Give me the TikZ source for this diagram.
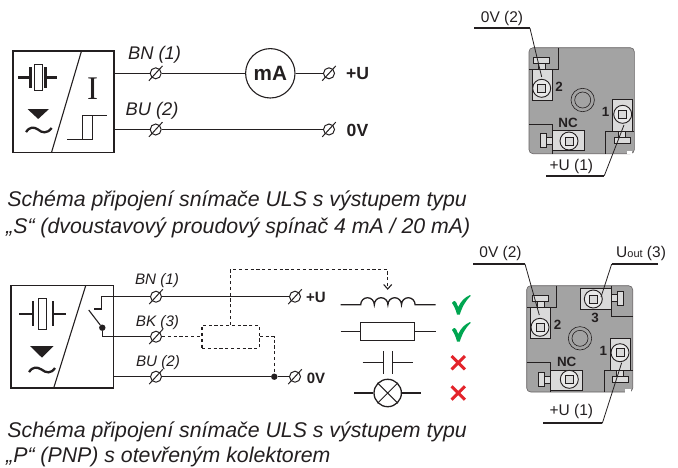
\documentclass[tikz,border=0pt]{standalone}
\usepackage{fontspec}
\setmainfont{Liberation Sans}
\newfontfamily\serifI{Liberation Serif}
\usetikzlibrary{calc,arrows.meta}
\definecolor{ink}{HTML}{231F20}
\definecolor{bodygray}{HTML}{A3A3A3}
\definecolor{plategray}{HTML}{DADADA}
\definecolor{okgreen}{HTML}{00A651}
\definecolor{badred}{HTML}{E3242B}
\newcommand{\fs}[1]{\fontsize{#1}{#1}\selectfont}
\tikzset{
  wire/.style={draw=ink,line width=1.3pt},
  dash wire/.style={draw=ink,line width=1.1pt,dash pattern=on 3.2pt off 2.6pt},
  term/.style={circle,draw=ink,fill=white,line width=1pt,minimum size=11pt,inner sep=0pt},
  boxnode/.style={rectangle,draw=ink,line width=1.3pt,inner sep=0pt},
  txt/.style={inner sep=0pt,text=ink},
  caption/.style={anchor=base west,inner sep=0pt,text=ink,font=\fs{21.3}\itshape},
  lead/.style={draw=ink,line width=0.8pt},
  leadbar/.style={draw=ink,line width=1.8pt},
  thin ink/.style={draw=ink,line width=0.7pt},
  block/.style={draw=ink,line width=0.6pt,fill=plategray},
  dotnode/.style={circle,fill=ink,inner sep=0pt,minimum size=6.4pt},
}
\newcommand{\terminal}[3]{\node[term] (#1) at (#2,#3) {};
  \draw[ink,line width=1pt] ($(#1)+(-6.8,7.4)$) -- ($(#1)+(6.8,-7.4)$);}
\newcommand{\crystal}[8]{% rectx1 rectx2 recty1 recty2 plateL plateR linex1 linex2
  \draw[ink,line width=1pt,fill=white] (#1,#3) rectangle (#2,#4);
  \draw[ink,line width=2.2pt] (#5,{#3+3}) -- (#5,{#4-3}) (#6,{#3+3}) -- (#6,{#4-3});
  \draw[ink,line width=2.2pt] (#7,{(#3+#4)/2}) -- (#5,{(#3+#4)/2}) (#6,{(#3+#4)/2}) -- (#8,{(#3+#4)/2});}
\newcommand{\screwdisc}[2]{%
  \draw[ink,line width=0.9pt,fill=plategray!60!white] (#1,#2) circle (9);
  \draw[ink,line width=0.6pt,fill=plategray] ({#1-4},{#2-4}) rectangle ({#1+4},{#2+4});}
\newcommand{\hub}[2]{%
  \draw[ink,line width=0.6pt,fill=bodygray] (#1,#2) circle (11.7);
  \draw[ink,line width=0.6pt,fill=bodygray] (#1,#2) circle (8);}
\newcommand{\hscrew}[3]{% centre x, junction y, direction of the head
  \draw[block] ({#1-3.5},#2) rectangle ({#1+3.5},{#2+6*#3});
  \draw[block] ({#1-8},{#2+6*#3}) rectangle ({#1+8},{#2+12*#3});}
\newcommand{\vscrew}[3]{% junction x, centre y, direction of the head
  \draw[block] (#1,{#2-3.5}) rectangle ({#1+6*#3},{#2+3.5});
  \draw[block] ({#1+6*#3},{#2-7}) rectangle ({#1+12*#3},{#2+7});}
\begin{document}
\begin{tikzpicture}[x=1pt,y=-1pt]
\useasboundingbox (0,0) rectangle (678,467);
% ---------- top schematic
\node[boxnode,minimum width=101pt,minimum height=101.5pt] (boxA) at (63.5,101.7) {};
\draw[ink,line width=1.1pt] (81.5,51) -- (51.5,152.5);
\crystal{34}{42}{64.3}{90.7}{30.5}{45.5}{18}{57}
\fill[ink] (27.5,109) -- (49,109) -- (38.2,119) -- cycle;
\draw[ink,line width=2.3pt] (26,132) .. controls (29,127) and (34,126.5) .. (38,129.5) .. controls (42,133) and (47,134) .. (51.7,128);
\node[txt,font=\serifI\fs{33}] (curI) at (92.5,88.5) {I};
\draw[ink,line width=1pt] (67,139) -- (92,139) -- (92,115) (82.5,139) -- (82.5,115) -- (107,115);
\terminal{tA}{155.7}{73.3}
\terminal{tB}{155.7}{129.5}
\terminal{tU}{329}{73.3}
\terminal{tO}{329}{129.5}
\node[circle,draw=ink,line width=1.1pt,inner sep=0pt,minimum size=49.4pt,font=\fs{20.7}\bfseries,text=ink] (ma) at (270.3,73.3) {mA};
\draw[wire] (boxA.east |- tA) -- (tA);
\draw[wire] (tA) -- (ma);
\draw[wire] (ma) -- (tU);
\draw[wire] (boxA.east |- tB) -- (tB);
\draw[wire] (tB) -- (tO);
\node[txt,font=\fs{18.3}\itshape] (lBN) at (154.5,55) {BN (1)};
\node[txt,font=\fs{18.3}\itshape] (lBU) at (152,111) {BU (2)};
\node[txt,font=\fs{17.6}\bfseries] (lU) at (357.5,74) {+U};
\node[txt,font=\fs{17.6}\bfseries] (lO) at (357.5,130.5) {0V};
% ---------- top caption
\node[caption] (c1) at (7.3,206.7) {Schéma připojení snímače ULS s výstupem typu};
\node[caption] (c2) at (6,233) {„S“ (dvoustavový proudový spínač 4 mA / 20 mA)};
% ---------- top connector block
\draw[draw=ink!70,line width=0.6pt,fill=bodygray,rounded corners=4pt] (529,47.7) rectangle (634.3,153.7);
\draw[thin ink] (558.3,47.7) -- (558.3,69) -- (529,69);
\draw[thin ink] (605.7,153.7) -- (605.7,131.7) -- (634.3,131.7);
\draw[thin ink] (529,124) -- (552.3,124) -- (552.3,153.7);
\fill[white] (626.7,150.5) rectangle (632,154.2);
\draw[block] (532.3,69) rectangle (552.3,100);
\draw[block] (612.7,99.3) rectangle (632.3,131.7);
\draw[block] (552.3,130.3) rectangle (584,150.7);
\screwdisc{541.7}{88.3}
\screwdisc{622.7}{114.3}
\screwdisc{569}{141}
\hscrew{541.5}{69}{-1}
\hscrew{622}{131.7}{1}
\vscrew{552.3}{140.5}{-1}
\hub{582.7}{100}
\node[txt,font=\fs{13.4}\bfseries] (n2a) at (559,86.7) {2};
\node[txt,font=\fs{13.4}\bfseries] (n1a) at (605.7,112.3) {1};
\node[txt,font=\fs{13.4}\bfseries] (nca) at (568,122.7) {NC};
\coordinate (a0s) at (474,28.3); \coordinate (a0e) at (530,28.3); \coordinate (a0t) at (541.7,77);
\draw[leadbar] (a0s) -- (a0e); \draw[lead] (a0e) -- (a0t);
\node[txt,font=\fs{15.5}] (l0a) at (502,18.7) {0V (2)};
\coordinate (a1s) at (546,175.7); \coordinate (a1e) at (604.3,175.7); \coordinate (a1t) at (624,125);
\draw[leadbar] (a1s) -- (a1e); \draw[lead] (a1e) -- (a1t);
\node[txt,font=\fs{15.5}] (l1a) at (571.3,166.7) {+U (1)};
% ---------- bottom schematic
\node[boxnode,minimum width=102.7pt,minimum height=102.3pt] (boxB) at (62.35,336.85) {};
\draw[ink,line width=1.1pt] (85.7,285.7) -- (53.7,388);
\crystal{38.3}{46.3}{298.3}{329}{33.3}{53.3}{19}{65.7}
\fill[ink] (30,346) -- (53.7,346) -- (42,357.7) -- cycle;
\draw[ink,line width=2.3pt] (29,372) .. controls (32,367) and (37,366.5) .. (41.5,369.5) .. controls (46,373) and (51,374) .. (55,368);
\terminal{tC}{156}{296.7}
\terminal{tD}{156}{336.7}
\terminal{tE}{156}{376.7}
\terminal{tF}{295}{296.7}
\terminal{tG}{295}{376.7}
\node[dotnode] (sw) at (102.3,327.7) {};
\node[dotnode] (j0) at (274.3,376.7) {};
\draw[ink,line width=1.1pt] (94.3,309) -- (101.7,309) -- (101.7,296.7) -- (tC);
\draw[ink,line width=1.1pt] (88.7,310) -- (sw);
\draw[wire] (sw) -- (sw |- tD) -- (tD);
\draw[wire] (tC) -- (tF);
\draw[wire] (boxB.east |- tE) -- (tE);
\draw[wire] (tE) -- (j0);
\draw[wire] (j0) -- (tG);
\node[dash wire,rectangle,inner sep=0pt,minimum width=57.3pt,minimum height=22.7pt] (dr) at (230.65,336.7) {};
\draw[dash wire] (tD) -- (dr.west |- tD);
\coordinate (ind) at (387.7,289.8);
\draw[dash wire,-{Straight Barb[length=4.5pt,width=8pt]}] (dr.north) -- (dr.north |- 0,269.3) -- (ind |- 0,269.3) -- (ind);
\draw[dash wire] (dr.east) -- (dr.east -| j0) -- (j0);
\node[txt,font=\fs{15.2}\itshape] (lBNb) at (157,280.7) {BN (1)};
\node[txt,font=\fs{15.2}\itshape] (lBKb) at (157.5,322.7) {BK (3)};
\node[txt,font=\fs{15.2}\itshape] (lBUb) at (158,363) {BU (2)};
\node[txt,font=\fs{15}\bfseries] (lUb) at (316,297) {+U};
\node[txt,font=\fs{15}\bfseries] (lOb) at (316,378) {0V};
% loads
\draw[wire] (340.7,304.7) -- (360.7,304.7)
  arc[start angle=180,end angle=360,x radius=6.8,y radius=7] arc[start angle=180,end angle=360,x radius=6.8,y radius=7]
  arc[start angle=180,end angle=360,x radius=6.8,y radius=7] arc[start angle=180,end angle=360,x radius=6.8,y radius=7]
  -- (435.7,304.7);
\node[rectangle,draw=ink,line width=1.3pt,inner sep=0pt,minimum width=54pt,minimum height=18pt] (res) at (387.7,331.7) {};
\coordinate (resL) at (340.7,331.7); \coordinate (resR) at (435.7,331.7);
\draw[wire] (resL) -- (res) (res) -- (resR);
\draw[wire] (383.3,351) -- (383.3,374.3) (392.3,351) -- (392.3,374.3);
\draw[wire] (362.7,362.7) -- (383.3,362.7) (392.3,362.7) -- (413.3,362.7);
\node[circle,draw=ink,line width=1.3pt,inner sep=0pt,minimum size=27.4pt] (lamp) at (387.7,393) {};
\coordinate (lampL) at (354.3,393); \coordinate (lampR) at (420.7,393);
\draw[wire] (lampL) -- (lamp) (lamp) -- (lampR);
\draw[ink,line width=1pt] (lamp.north west) -- (lamp.south east) (lamp.north east) -- (lamp.south west);
% ticks and crosses
\foreach \dy in {0,27}{
  \fill[okgreen] (452,{303+\dy}) .. controls (454,{300.5+\dy}) and (455,{300.5+\dy}) .. (456,{302+\dy}) -- (458.2,{307+\dy}) .. controls (461,{301+\dy}) and (465,{297+\dy}) .. (470.2,{295+\dy}) -- (470.6,{296+\dy}) .. controls (466,{300+\dy}) and (462,{307+\dy}) .. (459.8,{314.6+\dy}) -- (457,{314.6+\dy}) .. controls (456,{310+\dy}) and (454,{306+\dy}) .. cycle;
}
\foreach \cy in {362.7,393}{
  \draw[badred,line width=3pt] (451.6,{\cy-6.7}) -- (465,{\cy+6.7}) (465,{\cy-6.7}) -- (451.6,{\cy+6.7});
}
% ---------- bottom connector block
\draw[draw=ink!70,line width=0.6pt,fill=bodygray,rounded corners=4pt] (526.7,285.7) rectangle (632.7,392);
\draw[thin ink] (556.7,285.7) -- (556.7,307.7) -- (526.7,307.7);
\draw[thin ink] (611.7,285.7) -- (611.7,316) -- (632.7,316);
\draw[thin ink] (604,392) -- (604,370) -- (632.7,370);
\draw[thin ink] (526.7,362.7) -- (550.7,362.7) -- (550.7,392);
\fill[white] (625,388.8) rectangle (630.5,392.5);
\draw[block] (530,307.7) rectangle (550,338.3);
\draw[block] (580.7,288.3) rectangle (611.7,309);
\draw[block] (610,338.3) rectangle (630,370);
\draw[block] (550.7,370) rectangle (582.7,390);
\screwdisc{540}{327.3}
\screwdisc{593.3}{299}
\screwdisc{620}{352.7}
\screwdisc{569.3}{379.3}
\hscrew{540.5}{307.7}{-1}
\hscrew{620}{370}{1}
\vscrew{611.7}{298}{1}
\vscrew{550.7}{379.3}{-1}
\hub{580}{338.3}
\node[txt,font=\fs{13.4}\bfseries] (n2b) at (557.7,325) {2};
\node[txt,font=\fs{13.4}\bfseries] (n3b) at (595,317.7) {3};
\node[txt,font=\fs{13.4}\bfseries] (n1b) at (603.3,350.7) {1};
\node[txt,font=\fs{13.4}\bfseries] (ncb) at (566.7,361.7) {NC};
\coordinate (b0s) at (473,264); \coordinate (b0e) at (525,264); \coordinate (b0t) at (539.3,315);
\draw[leadbar] (b0s) -- (b0e); \draw[lead] (b0e) -- (b0t);
\node[txt,font=\fs{15.5}] (l0b) at (500.5,253) {0V (2)};
\coordinate (b3s) at (658,264); \coordinate (b3e) at (611.7,264); \coordinate (b3t) at (601,297);
\draw[leadbar] (b3s) -- (b3e); \draw[lead] (b3e) -- (b3t);
\node[txt,font=\fs{15.5},anchor=west] (l3b) at (616,253) {U{\fs{11}out} (3)};
\coordinate (b1s) at (543.3,423.3); \coordinate (b1e) at (602.3,423.3); \coordinate (b1t) at (621.7,362.7);
\draw[leadbar] (b1s) -- (b1e); \draw[lead] (b1e) -- (b1t);
\node[txt,font=\fs{15.5}] (l1b) at (571.3,411.7) {+U (1)};
% ---------- bottom caption
\node[caption] (c3) at (7.3,437) {Schéma připojení snímače ULS s výstupem typu};
\node[caption] (c4) at (6,462.4) {„P“ (PNP) s otevřeným kolektorem};
\end{tikzpicture}
\end{document}
